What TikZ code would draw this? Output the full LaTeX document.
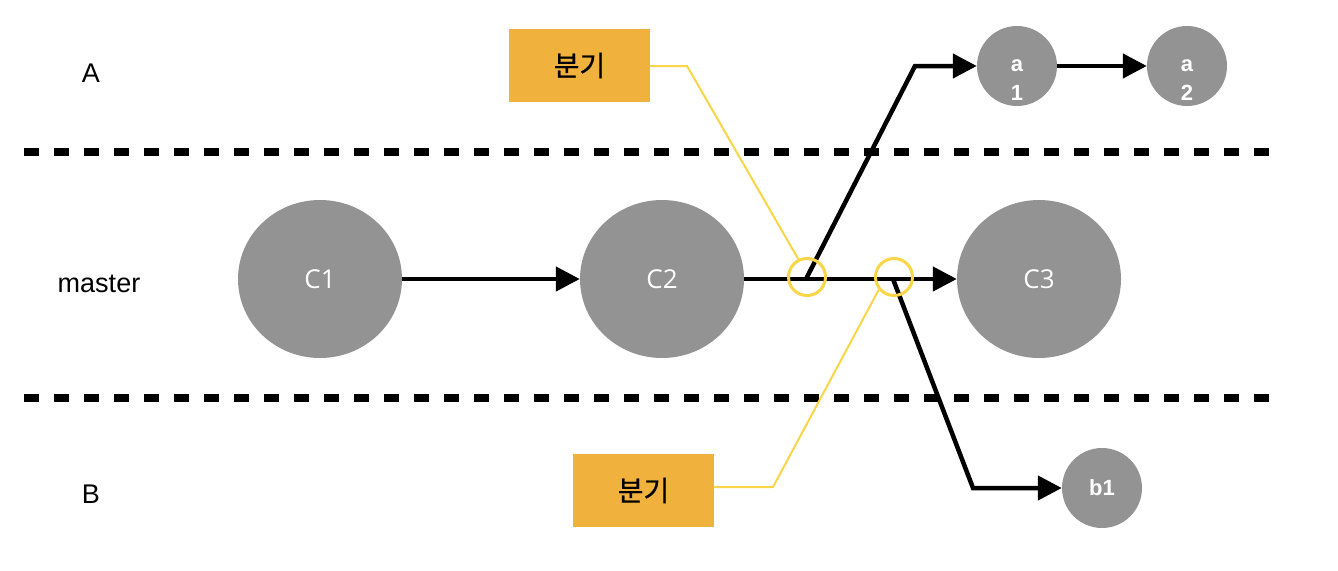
\documentclass[tikz,border=0pt]{standalone}
\usepackage{fontspec}
\setmainfont{Liberation Sans}
\newfontfamily\krfont[FakeBold=0.8]{Noto Sans CJK KR}
\newfontfamily\commitfont{Open Sans}
\usetikzlibrary{arrows.meta, shapes.geometric}

\definecolor{commitgray}{HTML}{939393}
\definecolor{branchorange}{HTML}{F1B13D}
\definecolor{ringyellow}{HTML}{F9D548}

\begin{document}
\begin{tikzpicture}[x=1pt, y=-1pt,
  commit/.style={ellipse, fill=commitgray, inner sep=0pt, minimum width=164pt, minimum height=158pt,
    text=white, font=\commitfont\fontsize{26}{30}\selectfont},
  smallcommit/.style={circle, fill=commitgray, inner sep=0pt, minimum size=80pt,
    text=white, font=\bfseries\fontsize{22}{29}\selectfont},
  smalltext/.style={text=white, align=center, inner sep=0pt, font=\bfseries\fontsize{22}{29}\selectfont},
  lane/.style={font=\fontsize{27}{32}\selectfont},
  branchbox/.style={fill=branchorange, minimum width=141pt, minimum height=73pt,
    font=\krfont\fontsize{28}{32}\selectfont},
  forkring/.style={circle, draw=ringyellow, line width=3pt, minimum size=37pt, inner sep=0pt},
  lanesep/.style={line width=8pt, dash pattern=on 15pt off 15pt},
  flow/.style={line width=4.5pt, -{Triangle[length=24pt, width=24pt]}},
  callout/.style={draw=ringyellow, line width=2pt}]

\useasboundingbox (0,0) rectangle (1338,570);

% lanes
\draw [lanesep] (24,152) -- (1269,152);
\draw [lanesep] (24,398) -- (1269,398);

\node [lane] (laneA) at (91,73) {A};
\node [lane] (laneM) at (99,284) {master};
\node [lane] (laneB) at (91,494) {B};

% commits on master
\node [commit] (c1) at (320,279) {C1};
\node [commit] (c2) at (662,279) {C2};
\node [commit] (c3) at (1039,279) {C3};

% commits on A and B
\node [smallcommit, label={[smalltext, yshift=-14pt]center:a\\1}] (a1) at (1017,66) {};
\node [smallcommit, label={[smalltext, yshift=-14pt]center:a\\2}] (a2) at (1187,66) {};
\node [smallcommit] (b1) at (1102,488) {b1};

\coordinate (splitA) at (806,279);
\coordinate (bendA) at (915,66);
\coordinate (splitB) at (893,279);
\coordinate (bendB) at (973,488);

\draw [flow] (c1) -- (c2);
\draw [flow] (c2) -- (c3);
\draw [flow, line join=miter] (splitA) -- (bendA) -- (a1);
\draw [flow] (a1) -- (a2);
\draw [flow, line join=miter] (splitB) -- (bendB) -- (b1);

% branch points
\node [forkring] (forkA) at (807,277) {};
\node [forkring] (forkB) at (894,277) {};

\node [branchbox] (boxA) at (579.5,65.5) {분기};
\node [branchbox] (boxB) at (643.5,490.5) {분기};

\coordinate (kneeA) at (687,66);
\coordinate (kneeB) at (773,487);
\draw [callout] (kneeA -| boxA.east) -- (kneeA) -- (forkA.116);
\draw [callout] (kneeB -| boxB.east) -- (kneeB) -- (forkB.220);
\end{tikzpicture}
\end{document}
